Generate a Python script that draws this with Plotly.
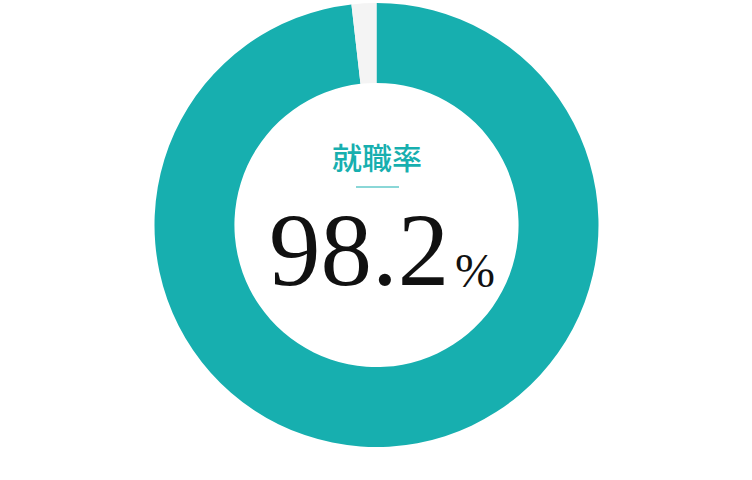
import plotly.graph_objects as go

labels = ["就職", "その他"]
values = [98.2, 1.8]
colors = ["#17AFAF", "#F4F4F4"]

title_text = "就職率"
rate_text = "98.2"
unit_text = "%"

W, H = 752, 480
cx, cy, r = 376.5, 225, 222


def px(x):
    return x / W


def py(y):
    return 1 - y / H


data = go.Pie(
    labels=labels,
    values=values,
    hole=0.64,
    sort=False,
    direction="clockwise",
    rotation=0,
    marker=dict(colors=colors, line=dict(width=0)),
    textinfo="none",
    hoverinfo="label+percent",
    domain=dict(x=[px(cx - r), px(cx + r)], y=[py(cy + r), py(cy - r)]),
)

fig = go.Figure(data)
fig.update_layout(
    width=W, height=H,
    margin=dict(l=0, r=0, t=0, b=0),
    paper_bgcolor="white",
    showlegend=False,
    annotations=[
        dict(text=title_text, x=px(377), y=py(156), xref="paper", yref="paper",
             xanchor="center", yanchor="middle", showarrow=False,
             font=dict(family="Noto Sans CJK JP", size=30, weight=500, color="#17AFAF")),
        dict(text=rate_text, x=px(359), y=py(250), xref="paper", yref="paper",
             xanchor="center", yanchor="middle", showarrow=False,
             font=dict(family="Liberation Serif, Times New Roman, serif", size=103, color="#111111")),
        dict(text=unit_text, x=px(475), y=py(270), xref="paper", yref="paper",
             xanchor="center", yanchor="middle", showarrow=False,
             font=dict(family="Liberation Serif, Times New Roman, serif", size=48, color="#111111")),
    ],
    shapes=[
        dict(type="line", xref="paper", yref="paper", x0=px(356), x1=px(399),
             y0=py(187), y1=py(187), line=dict(color="#17AFAF", width=1), layer="above"),
    ],
)
# drop the default body margin so the figure sits at the page corner
fig.write_html("out.html", config={"displayModeBar": False},
               post_script="document.body.style.margin='0';")
